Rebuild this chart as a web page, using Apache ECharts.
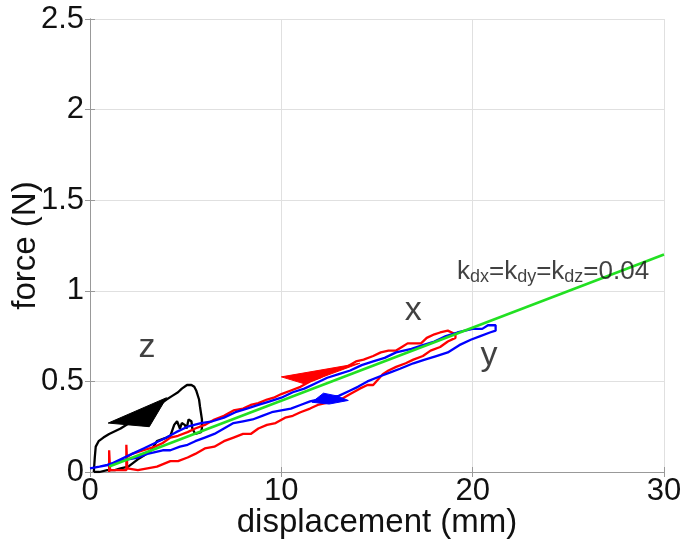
<!DOCTYPE html>
<html>
<head>
<meta charset="utf-8">
<script src="https://cdn.jsdelivr.net/npm/echarts@6/dist/echarts.min.js"></script>
<style>
html,body{margin:0;padding:0;background:#fff;}
#chart{width:689px;height:554px;}
</style>
</head>
<body>
<div id="chart"></div>
<script>
// ---- data (displacement mm, force N) ----
var xTicks = [0, 10, 20, 30];
var yTicks = [0, 0.5, 1, 1.5, 2, 2.5];

var zLoop = [[0.2,0.0],[0.25,0.08],[0.3,0.14],[0.45,0.17],[0.7,0.19],[1.0,0.21],[1.6,0.24],[2.2,0.28],[3.0,0.33],[3.6,0.37],[4.0,0.40],[4.3,0.42],[4.6,0.44],[4.8,0.46],[5.07,0.48],[5.3,0.48],[5.45,0.47],[5.55,0.45],[5.65,0.44],[5.7,0.40],[5.75,0.36],[5.85,0.29],[5.85,0.24],[5.8,0.22],[5.5,0.21],[5.35,0.24],[5.3,0.28],[5.15,0.29],[5.05,0.24],[4.95,0.26],[4.8,0.27],[4.7,0.24],[4.55,0.28],[4.4,0.26],[4.2,0.20],[4.0,0.19],[3.75,0.18],[3.5,0.17],[3.2,0.12],[2.8,0.09],[2.5,0.07],[2.0,0.03],[1.6,0.02],[1.3,0.01],[0.9,0.01],[0.5,0.0],[0.2,0.0]];

var xLoop = [[1.0,0.0],[1.0,0.12],[1.05,0.01],[1.9,0.01],[1.9,0.15],[1.95,0.02],[2.5,0.01],[3.0,0.02],[3.5,0.03],[4.2,0.06],[4.6,0.06],[5.1,0.08],[5.5,0.10],[6.0,0.13],[6.5,0.14],[7.0,0.17],[7.5,0.19],[8.0,0.21],[8.4,0.21],[8.8,0.24],[9.25,0.26],[9.7,0.27],[10.2,0.30],[10.6,0.31],[11.0,0.33],[11.5,0.35],[11.9,0.37],[12.3,0.38],[12.7,0.39],[13.1,0.40],[13.6,0.43],[14.1,0.46],[14.5,0.48],[14.8,0.48],[15.3,0.54],[15.6,0.56],[16.0,0.58],[16.5,0.60],[16.9,0.62],[17.4,0.64],[17.8,0.67],[18.3,0.69],[18.7,0.72],[19.1,0.74],[19.1,0.76],[19.0,0.77],[18.7,0.78],[18.3,0.77],[18.0,0.76],[17.6,0.74],[17.3,0.71],[16.9,0.71],[16.6,0.71],[16.3,0.69],[16.0,0.67],[15.6,0.67],[15.2,0.66],[14.8,0.64],[14.3,0.62],[13.9,0.61],[13.4,0.58],[13.0,0.57],[12.5,0.55],[12.0,0.52],[11.5,0.50],[11.0,0.47],[10.5,0.45],[10.0,0.43],[9.6,0.41],[9.25,0.40],[8.8,0.38],[8.4,0.37],[8.0,0.35],[7.5,0.34],[7.0,0.31],[6.5,0.29],[6.0,0.26],[5.5,0.24],[5.1,0.22],[4.6,0.20],[4.2,0.19],[3.8,0.16],[3.4,0.14],[2.8,0.12],[2.2,0.10],[1.9,0.08]];

var yLoop = [[0.0,0.02],[0.5,0.03],[0.9,0.04],[1.5,0.06],[2.0,0.07],[2.5,0.08],[3.0,0.10],[3.4,0.11],[3.8,0.12],[4.2,0.12],[4.7,0.14],[5.1,0.15],[5.5,0.17],[6.0,0.19],[6.5,0.21],[7.0,0.24],[7.5,0.27],[8.0,0.28],[8.5,0.29],[9.0,0.31],[9.5,0.33],[10.0,0.34],[10.5,0.35],[11.0,0.37],[11.5,0.39],[11.9,0.40],[12.5,0.41],[13.0,0.42],[13.6,0.45],[14.0,0.47],[14.5,0.50],[15.2,0.53],[15.7,0.55],[16.2,0.57],[16.9,0.60],[17.5,0.62],[18.1,0.64],[18.7,0.66],[19.3,0.70],[19.9,0.73],[20.4,0.75],[20.9,0.77],[21.2,0.78],[21.2,0.81],[20.8,0.81],[20.5,0.79],[20.0,0.79],[19.6,0.78],[19.2,0.77],[18.6,0.75],[18.0,0.72],[17.4,0.70],[16.8,0.68],[16.0,0.66],[15.4,0.63],[14.8,0.61],[14.2,0.59],[13.6,0.56],[13.0,0.54],[12.4,0.52],[11.8,0.49],[11.2,0.46],[10.6,0.44],[10.0,0.41],[9.4,0.39],[8.8,0.37],[8.2,0.35],[7.6,0.33],[7.0,0.30],[6.4,0.28],[5.8,0.27],[5.1,0.25],[4.5,0.22],[4.0,0.19],[3.4,0.16],[2.8,0.13],[2.2,0.10],[1.6,0.07],[1.0,0.04],[0.5,0.03]];

var fitLine = [[1.0,0.03],[30,1.2]];

var arrowZ = [[0.95,0.27],[4.0,0.41],[3.1,0.25]];
var arrowX = [[10.0,0.525],[14.1,0.60],[11.2,0.487]];
var arrowY = [[11.6,0.385],[12.2,0.435],[12.9,0.42],[13.5,0.395],[12.5,0.375]];

var textLabels = [[2.98,0.685,'z'],[16.9,0.89,'x'],[20.85,0.64,'y']];
var annotation = [[24.2,1.105,'{k|k}{s|dx}{k|=k}{s|dy}{k|=k}{s|dz}{k|=0.04}']];

var FONT = 'Liberation Sans, Arial, sans-serif';

function polySeries(pts, color) {
  return {
    type: 'custom',
    silent: true,
    data: [0],
    renderItem: function (params, api) {
      return {
        type: 'polygon',
        shape: { points: pts.map(function (p) { return api.coord(p); }) },
        style: { fill: color, stroke: color, lineWidth: 1 }
      };
    },
    z: 3
  };
}

function lineSeries(data, color, z, w) {
  return {
    type: 'line', data: data, showSymbol: false, symbol: 'none',
    lineStyle: { color: color, width: w || 2.3 }, silent: true, z: z
  };
}

var chart = echarts.init(document.getElementById('chart'));
chart.setOption({
  animation: false,
  backgroundColor: '#ffffff',
  grid: { left: 90, right: 25, top: 19, bottom: 82, containLabel: false, outerBoundsMode: 'none' },
  xAxis: [{
    type: 'value', min: xTicks[0], max: xTicks[xTicks.length - 1], interval: 10,
    name: 'displacement (mm)', nameLocation: 'middle', nameGap: 34, nameMoveOverlap: false,
    nameTextStyle: { fontFamily: FONT, fontSize: 33, color: '#111' },
    axisLine: { show: true, lineStyle: { color: '#999', width: 1 } },
    axisTick: { show: true, inside: true, length: 5, lineStyle: { color: '#999' } },
    axisLabel: { fontFamily: FONT, fontSize: 31, color: '#111', margin: 4 },
    splitLine: { show: true, lineStyle: { color: '#e0e0e0', width: 1 } }
  }, {
    type: 'value', position: 'top', min: 0, max: 30, interval: 10,
    axisLine: { show: true, lineStyle: { color: '#999', width: 1 } },
    axisTick: { show: true, inside: true, length: 5, lineStyle: { color: '#999' } },
    axisLabel: { show: false }, splitLine: { show: false }
  }],
  yAxis: [{
    type: 'value', min: yTicks[0], max: yTicks[yTicks.length - 1], interval: 0.5,
    name: 'force (N)', nameLocation: 'middle', nameGap: 48, nameMoveOverlap: false,
    nameTextStyle: { fontFamily: FONT, fontSize: 33, color: '#111' },
    axisLine: { show: true, lineStyle: { color: '#999', width: 1 } },
    axisTick: { show: true, inside: true, length: 5, lineStyle: { color: '#999' } },
    axisLabel: { fontFamily: FONT, fontSize: 31, color: '#111', margin: 6 },
    splitLine: { show: true, lineStyle: { color: '#e0e0e0', width: 1 } }
  }, {
    type: 'value', position: 'right', min: 0, max: 2.5, interval: 0.5,
    axisLine: { show: true, lineStyle: { color: '#999', width: 1 } },
    axisTick: { show: true, inside: true, length: 5, lineStyle: { color: '#999' } },
    axisLabel: { show: false }, splitLine: { show: false }
  }],
  series: [
    lineSeries(zLoop, '#000000', 2),
    lineSeries(xLoop, '#ff0000', 2),
    lineSeries(yLoop, '#0000ff', 2),
    polySeries(arrowZ, '#000000'),
    polySeries(arrowX, '#ff0000'),
    polySeries(arrowY, '#0000ff'),
    lineSeries(fitLine, '#22e022', 4, 2.6),
    {
      type: 'scatter', data: textLabels, symbolSize: 0, silent: true, z: 5,
      label: { show: true, position: 'inside', formatter: function (p) { return p.value[2]; },
        fontFamily: FONT, fontSize: 34, color: '#111' }
    },
    {
      type: 'scatter', data: annotation, symbolSize: 0, silent: true, z: 5,
      label: { show: true, position: 'inside', formatter: function (p) { return p.value[2]; },
        rich: {
          k: { fontFamily: FONT, fontSize: 26, color: '#111', lineHeight: 28, verticalAlign: 'middle' },
          s: { fontFamily: FONT, fontSize: 18, color: '#111', lineHeight: 14, verticalAlign: 'bottom' }
        }
      }
    }
  ]
});
</script>
</body>
</html>
